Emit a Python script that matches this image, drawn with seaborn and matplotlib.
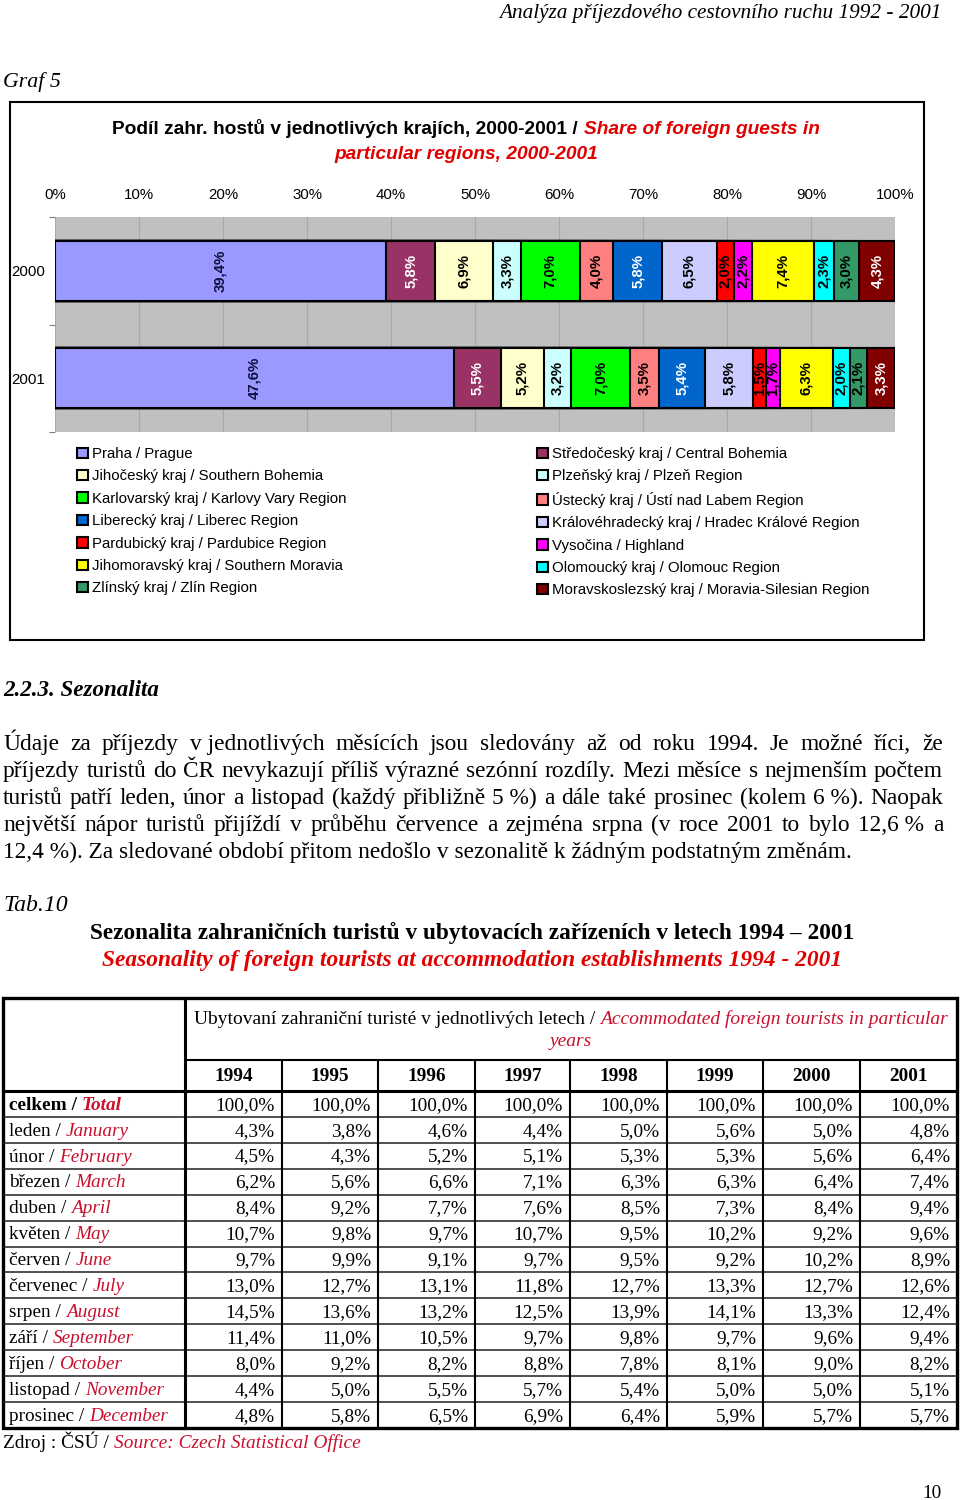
import numpy as np
import pandas as pd
import matplotlib
matplotlib.use("Agg")
import matplotlib.pyplot as plt
import seaborn as sns
from matplotlib import font_manager as fm
from matplotlib.font_manager import FontProperties
from matplotlib.patches import Rectangle

# ---------------- data ----------------
years_chart = ["2000", "2001"]
regions = [
    "Praha / Prague",
    "Středočeský kraj / Central Bohemia",
    "Jihočeský kraj / Southern Bohemia",
    "Plzeňský kraj / Plzeň Region",
    "Karlovarský kraj / Karlovy Vary Region",
    "Ústecký kraj / Ústí nad Labem Region",
    "Liberecký kraj / Liberec Region",
    "Královéhradecký kraj / Hradec Králové Region",
    "Pardubický kraj / Pardubice Region",
    "Vysočina / Highland",
    "Jihomoravský kraj / Southern Moravia",
    "Olomoucký kraj / Olomouc Region",
    "Zlínský kraj / Zlín Region",
    "Moravskoslezský kraj / Moravia-Silesian Region",
]
share_2000 = [39.4, 5.8, 6.9, 3.3, 7.0, 4.0, 5.8, 6.5, 2.0, 2.2, 7.4, 2.3, 3.0, 4.3]
share_2001 = [47.6, 5.5, 5.2, 3.2, 7.0, 3.5, 5.4, 5.8, 1.5, 1.7, 6.3, 2.0, 2.1, 3.3]
region_colors = ["#9999FF", "#993366", "#FFFFCC", "#CCFFFF", "#00FF00", "#FF8080", "#0066CC",
                 "#CCCCFF", "#FF0000", "#FF00FF", "#FFFF00", "#00FFFF", "#339966", "#800000"]
label_colors = ["#101040", "white", "black", "black", "black", "black", "white",
                "black", "black", "black", "black", "black", "black", "white"]
x_ticks = [0, 10, 20, 30, 40, 50, 60, 70, 80, 90, 100]

table_years = ["1994", "1995", "1996", "1997", "1998", "1999", "2000", "2001"]
months_cz = ["celkem", "leden", "únor", "březen", "duben", "květen", "červen", "červenec",
             "srpen", "září", "říjen", "listopad", "prosinec"]
months_en = ["Total", "January", "February", "March", "April", "May", "June", "July",
             "August", "September", "October", "November", "December"]
season_1994 = [100.0, 4.3, 4.5, 6.2, 8.4, 10.7, 9.7, 13.0, 14.5, 11.4, 8.0, 4.4, 4.8]
season_1995 = [100.0, 3.8, 4.3, 5.6, 9.2, 9.8, 9.9, 12.7, 13.6, 11.0, 9.2, 5.0, 5.8]
season_1996 = [100.0, 4.6, 5.2, 6.6, 7.7, 9.7, 9.1, 13.1, 13.2, 10.5, 8.2, 5.5, 6.5]
season_1997 = [100.0, 4.4, 5.1, 7.1, 7.6, 10.7, 9.7, 11.8, 12.5, 9.7, 8.8, 5.7, 6.9]
season_1998 = [100.0, 5.0, 5.3, 6.3, 8.5, 9.5, 9.5, 12.7, 13.9, 9.8, 7.8, 5.4, 6.4]
season_1999 = [100.0, 5.6, 5.3, 6.3, 7.3, 10.2, 9.2, 13.3, 14.1, 9.7, 8.1, 5.0, 5.9]
season_2000 = [100.0, 5.0, 5.6, 6.4, 8.4, 9.2, 10.2, 12.7, 13.3, 9.6, 9.0, 5.0, 5.7]
season_2001 = [100.0, 4.8, 6.4, 7.4, 9.4, 9.6, 8.9, 12.6, 12.4, 9.4, 8.2, 5.1, 5.7]
season_cols = [season_1994, season_1995, season_1996, season_1997,
               season_1998, season_1999, season_2000, season_2001]

paragraph = [
    "Údaje za příjezdy v\u00a0jednotlivých měsících jsou sledovány až od roku 1994. Je možné říci, že",
    "příjezdy turistů do ČR nevykazují příliš výrazné sezónní rozdíly. Mezi měsíce s nejmenším počtem",
    "turistů patří leden, únor a listopad (každý přibližně 5\u00a0%) a dále také prosinec (kolem 6\u00a0%). Naopak",
    "největší nápor turistů přijíždí v průběhu července a zejména srpna (v roce 2001 to bylo 12,6\u00a0% a",
    "12,4\u00a0%). Za sledované období přitom nedošlo v sezonalitě k žádným podstatným změnám.",
]

# ---------------- setup ----------------
SERIF = "Liberation Serif"
SANS = "Liberation Sans"


def has_font(name):
    try:
        fm.findfont(FontProperties(family=name), fallback_to_default=False)
        return True
    except Exception:
        return False


NARROW = "Liberation Sans Narrow" if has_font("Liberation Sans Narrow") else SANS
RED = "#e00000"
TRED = "#c8102e"

plt.rcParams["font.family"] = [SANS, "DejaVu Sans"]
fig = plt.figure(figsize=(9.6, 15), dpi=100)
fig.patch.set_facecolor("white")
renderer = fig.canvas.get_renderer()

page = fig.add_axes([0, 0, 1, 1], zorder=0)
page.set_xlim(0, 960)
page.set_ylim(1500, 0)
page.axis("off")


def P(size, family=SERIF, weight="normal", style="normal"):
    return FontProperties(family=family, size=size, weight=weight, style=style)


def tw(text, prop):
    w, h, d = renderer.get_text_width_height_descent(text, prop, ismath=False)
    return w


def adv(text, prop):
    return tw(text + "I", prop) - tw("I", prop)


def parts_width(parts, size, family):
    total = 0.0
    for i, (t, wgt, sty, col) in enumerate(parts):
        pr = P(size, family, wgt, sty)
        total += adv(t, pr) if i < len(parts) - 1 else tw(t, pr)
    return total


def fit_size(parts, target, family=SERIF):
    return 10.0 * target / parts_width(parts, 10.0, family)


def base(cy, size):
    return cy + 0.30 * size * 100 / 72


def draw(parts, x, cy, size, family=SERIF, ha="left"):
    total = parts_width(parts, size, family)
    if ha == "left":
        x0 = x
    elif ha == "center":
        x0 = x - total / 2
    else:
        x0 = x - total
    y = base(cy, size)
    for t, wgt, sty, col in parts:
        pr = P(size, family, wgt, sty)
        page.text(x0, y, t, fontproperties=pr, color=col, ha="left", va="baseline")
        x0 += adv(t, pr)


def justify(line, x0, x1, cy, size):
    pr = P(size)
    words = line.split(" ")
    ws = [tw(w, pr) for w in words]
    gap = (x1 - x0 - sum(ws)) / (len(words) - 1)
    x = x0
    y = base(cy, size)
    for w, wd in zip(words, ws):
        page.text(x, y, w, fontproperties=pr, color="black", ha="left", va="baseline")
        x += wd + gap


K = "black"
# ---------------- page header ----------------
hdr = [("Analýza příjezdového cestovního ruchu 1992 - 2001", "normal", "italic", K)]
draw(hdr, 942, 12, fit_size(hdr, 445), ha="right")
g5 = [("Graf 5", "normal", "italic", K)]
draw(g5, 3, 80, fit_size(g5, 58))

# chart frame
page.add_patch(Rectangle((10, 102), 914, 538, fill=False, edgecolor="black", lw=1.5))

# chart title
t1 = [("Podíl zahr. hostů v jednotlivých krajích, 2000-2001 / ", "bold", "normal", K),
      ("Share of foreign guests in", "bold", "italic", RED)]
ts = fit_size(t1, 708, NARROW)
draw(t1, 466, 128, ts, NARROW, ha="center")
draw([("particular regions, 2000-2001", "bold", "italic", RED)], 466, 153, ts, NARROW, ha="center")

# ---------------- chart ----------------
ax = fig.add_axes([55 / 960, 1 - 432 / 1500, 840 / 960, 215 / 1500], zorder=2)
ax.set_facecolor("#C0C0C0")
share = np.array([share_2000, share_2001])
norm = share / share.sum(axis=1, keepdims=True) * 100
cum = np.cumsum(norm, axis=1)
for i in reversed(range(len(regions))):
    df = pd.DataFrame({"year": years_chart, "cum": cum[:, i]})
    sns.barplot(data=df, x="cum", y="year", orient="h", color=region_colors[i], saturation=1,
                edgecolor="black", linewidth=1.5, width=0.56, errorbar=None, ax=ax,
                label=regions[i])
if ax.get_legend() is not None:
    ax.get_legend().remove()
for j in range(len(years_chart)):
    for i in range(len(regions)):
        xc = cum[j, i] - norm[j, i] / 2
        ax.text(xc, j, f"{share[j, i]:.1f}%".replace(".", ","), rotation=90, ha="center",
                va="center", fontsize=10.8, fontweight="bold", color=label_colors[i], zorder=5)

ax.set_xlim(0, 100)
ax.set_ylim(1.5, -0.5)
ax.xaxis.tick_top()
ax.set_xticks(x_ticks)
ax.set_xticklabels([f"{t}%" for t in x_ticks], fontsize=10.8)
ax.set_yticks(range(len(years_chart)))
ax.set_yticklabels(years_chart, fontsize=10.8)
ax.tick_params(axis="x", length=0, pad=11)
ax.tick_params(axis="y", length=0, pad=7)
ax.set_yticks([-0.5, 0.5, 1.5], minor=True)
ax.tick_params(axis="y", which="minor", length=4, color="#808080", width=0.8)
ax.set_xlabel("")
ax.set_ylabel("")
ax.grid(axis="x", color="#a8a8a8", lw=0.8)
ax.set_axisbelow(True)
for s in ax.spines.values():
    s.set_visible(False)

h, l = ax.get_legend_handles_labels()
hmap = dict(zip(l, h))
leg_kw = dict(frameon=False, prop=P(10.8, SANS), handlelength=0.7, handleheight=0.7,
              handletextpad=0.3, labelspacing=0.56, borderpad=0, borderaxespad=0,
              loc="upper left", bbox_transform=fig.transFigure)
left_items = regions[0::2]
right_items = regions[1::2]
fig.legend([hmap[r] for r in left_items], left_items,
           bbox_to_anchor=(77 / 960, 1 - 447 / 1500), **leg_kw)
fig.legend([hmap[r] for r in right_items], right_items,
           bbox_to_anchor=(537 / 960, 1 - 447 / 1500), **leg_kw)

# ---------------- section text ----------------
sec = [("2.2.3. Sezonalita", "bold", "italic", K)]
draw(sec, 3, 689, fit_size(sec, 157))
ps = fit_size([(paragraph[4], "normal", "normal", K)], 848)
for k, line in enumerate(paragraph):
    cy = 743 + k * 27
    if k < len(paragraph) - 1:
        justify(line, 3, 943, cy, ps)
    else:
        draw([(line, "normal", "normal", K)], 3, cy, ps)

tb = [("Tab.10", "normal", "italic", K)]
draw(tb, 3, 904, fit_size(tb, 65))
tt1 = [("Sezonalita zahraničních turistů v ubytovacích zařízeních v letech 1994 – 2001", "bold", "normal", K)]
draw(tt1, 472, 932, fit_size(tt1, 769), ha="center")
tt2 = [("Seasonality of foreign tourists at accommodation establishments 1994 - 2001", "bold", "italic", RED)]
draw(tt2, 472, 959, fit_size(tt2, 741), ha="center")

# ---------------- table ----------------
col_edges = [3, 185, 282, 378, 475, 570, 667, 763, 860, 957]
top, mid, hdr_bot, bottom = 998, 1060, 1091, 1428
nrows = len(months_cz)
row_h = (bottom - hdr_bot) / nrows
T = fit_size([("100,0%", "normal", "normal", K)], 59)

for k in range(1, nrows):
    yy = hdr_bot + k * row_h
    page.plot([3, 957], [yy, yy], color="#202020", lw=1.1, solid_capstyle="butt")
for xx in col_edges[2:-1]:
    page.plot([xx, xx], [mid, bottom], color="black", lw=1.5, solid_capstyle="butt")
page.plot([185, 957], [mid, mid], color="black", lw=1.5)
page.plot([3, 957], [hdr_bot, hdr_bot], color="black", lw=2.2)
page.plot([185, 185], [top, bottom], color="black", lw=2.2)
page.add_patch(Rectangle((3, top), 954, bottom - top, fill=False, edgecolor="black", lw=2.4))

th = [("Ubytovaní zahraniční turisté v jednotlivých letech / ", "normal", "normal", K),
      ("Accommodated foreign tourists in particular", "normal", "italic", TRED)]
ths = fit_size(th, 755)
draw(th, 571, 1018, ths, ha="center")
draw([("years", "normal", "italic", TRED)], 571, 1040, ths, ha="center")

for c, yr in enumerate(table_years):
    xc = (col_edges[c + 1] + col_edges[c + 2]) / 2
    draw([(yr, "bold", "normal", K)], xc, 1075, T, ha="center")

for r in range(nrows):
    cy = hdr_bot + (r + 0.5) * row_h
    wgt = "bold" if r == 0 else "normal"
    draw([(months_cz[r] + " / ", wgt, "normal", K), (months_en[r], wgt, "italic", TRED)], 9, cy, T)
    for c, col in enumerate(season_cols):
        txt = f"{col[r]:.1f}%".replace(".", ",")
        draw([(txt, "normal", "normal", K)], col_edges[c + 2] - 7, cy, T, ha="right")

src = [("Zdroj : ČSÚ / ", "normal", "normal", K), ("Source: Czech Statistical Office", "normal", "italic", TRED)]
draw(src, 3, 1442, fit_size(src, 359))
draw([("10", "normal", "normal", K)], 942, 1492, T, ha="right")

fig.savefig("out.png", dpi=100, facecolor="white")
